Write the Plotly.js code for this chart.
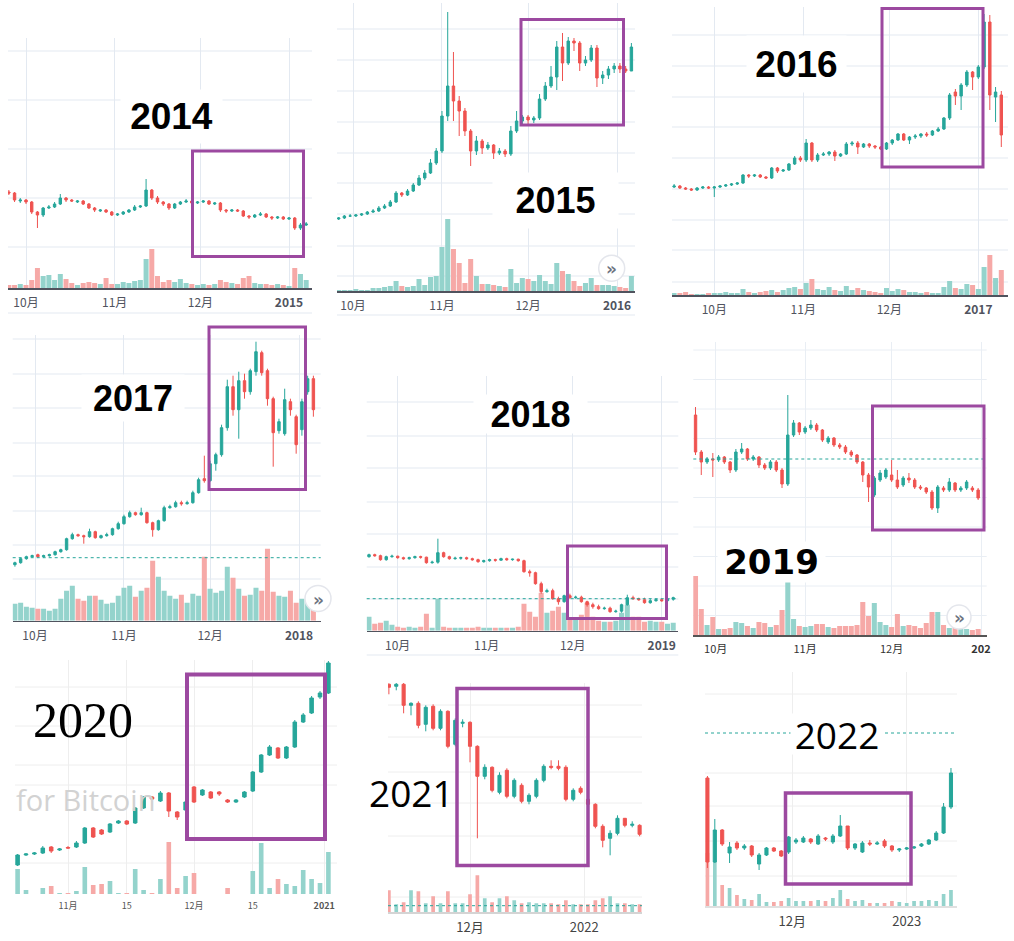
<!DOCTYPE html>
<html><head><meta charset="utf-8">
<script src="https://cdn.plot.ly/plotly-3.0.1.min.js"></script>
<style>html,body{margin:0;padding:0;background:#fff;}#chart{width:1014px;height:941px;}</style>
</head><body><div id="chart"></div>
<script>
// ---------- DATA (price & volume in chart units) ----------
const o2014=[96,95,87,88,86,76,73,80,81,84,90,88,86,87,84,80,77,78,76,73,74,76,78,81,82,98,90,86,84,80,84,86,87,85,86,87,84,85,78,77,78,77,72,71,73,74,71,70,71,69,70,60,63];
const h2014=[98,96,90,89,87,77,81,83,86,94,91,89,88,88,85,81,79,79,77,75,77,79,83,83,109,99,92,87,85,85,87,89,88,87,88,88,86,86,79,79,79,78,73,74,76,75,72,72,72,71,71,65,66];
const l2014=[93,86,85,84,74,60,71,79,80,83,86,86,85,83,79,76,76,75,72,72,73,75,77,80,81,88,84,82,78,79,83,85,84,84,85,83,83,76,75,76,76,71,69,70,72,70,68,69,68,68,58,58,62];
const c2014=[95,88,88,86,76,73,80,81,84,90,88,87,87,84,80,78,78,76,73,74,76,78,81,82,98,90,86,84,80,84,86,87,85,86,87,84,85,78,77,78,77,72,71,73,74,71,70,71,69,70,60,63,64];
const v2014=[3,3,4,3,8,20,12,13,8,14,9,5,3,5,6,5,4,10,4,4,6,5,7,8,29,39,12,6,8,6,9,5,4,3,4,3,4,8,6,5,4,10,12,5,4,4,3,4,3,2,20,14,8];

const o2015=[72,73,75,75,76,77,79,80,83,85,89,98,96,100,106,113,118,128,140,175,205,190,180,160,140,150,143,146,138,140,137,160,170,174,171,173,192,205,214,244,228,250,248,228,231,243,213,216,222,225,222,220];
const h2015=[74,76,77,77,78,80,82,85,87,91,100,99,102,108,116,121,132,143,180,279,239,195,183,162,155,152,149,147,143,142,165,180,176,176,175,197,209,225,250,258,254,253,250,235,246,246,220,225,228,228,225,248];
const l2015=[71,72,74,74,75,76,78,79,82,84,88,94,95,99,105,111,117,126,138,170,170,155,155,125,136,137,141,132,136,134,135,158,166,165,168,171,190,203,201,210,226,240,220,225,229,204,207,212,218,218,218,220];
const c2015=[73,75,75,76,77,79,80,83,85,89,98,96,100,106,113,118,128,140,175,205,190,180,160,140,150,143,146,138,140,137,160,170,174,171,173,192,205,214,244,228,250,248,228,231,243,213,216,222,225,222,220,244];
const v2015=[1,1,1,2,1,1,3,3,4,5,10,5,4,5,12,6,14,15,44,72,42,28,8,32,15,7,7,6,5,4,22,8,13,12,10,16,10,7,28,20,17,10,5,8,13,6,6,6,5,4,3,15];

const o2016=[108,109,107,106,105,107,108,107,108,109,110,111,112,120,119,120,118,117,127,124,125,131,137,135,152,135,140,141,143,139,141,151,152,148,151,149,148,146,152,155,161,155,158,159,161,160,164,166,177,203,199,210,223,218,228,273,198,200];
const h2016=[111,110,108,107,108,109,109,109,110,111,112,113,121,121,121,121,119,128,128,126,132,139,139,156,153,142,143,144,145,142,153,154,154,152,152,150,149,153,156,162,162,159,161,162,163,165,168,178,202,206,212,225,224,230,281,280,208,204];
const l2016=[107,106,105,104,104,106,106,98,107,108,109,110,111,117,118,117,116,116,122,123,124,130,133,133,133,133,139,139,134,138,140,149,141,147,147,146,145,145,150,154,154,151,156,157,158,159,163,165,175,190,185,208,205,216,226,185,173,148];
const c2016=[109,107,106,105,107,108,107,108,109,110,111,112,120,119,120,118,117,127,124,125,131,137,135,152,135,140,141,143,139,141,151,152,148,151,149,148,146,152,155,161,155,158,159,161,160,164,166,177,200,199,210,223,218,228,273,200,203,160];
const v2016=[2,2,3,1,1,1,2,2,2,3,2,2,6,3,2,3,4,5,3,5,7,8,6,12,16,6,5,8,5,4,9,5,7,5,4,3,2,7,4,6,5,3,3,2,3,2,2,8,14,7,6,11,10,6,28,40,17,25];

const o2017=[56,58,62,64,66,64,65,66,69,71,82,86,85,84,89,83,85,86,92,97,104,108,106,108,98,91,100,113,114,118,117,118,128,142,140,157,166,193,234,211,240,229,249,268,250,222,190,187,219,204,191,229,242];
const h2017=[59,63,65,66,67,66,67,70,72,83,88,87,86,92,90,86,88,93,99,106,110,109,113,109,99,101,115,116,120,120,120,130,143,165,160,168,196,241,245,249,247,252,279,270,252,224,202,232,222,206,222,245,245];
const l2017=[54,57,61,63,63,63,64,65,68,70,81,84,77,83,82,82,84,85,91,96,103,105,105,97,84,90,99,112,113,115,116,117,127,138,139,150,164,190,205,182,222,226,245,245,215,154,187,185,205,167,185,226,204];
const c2017=[58,62,64,65,64,65,66,69,71,82,86,85,84,89,83,85,86,92,97,104,108,106,108,98,91,100,113,114,118,117,118,128,141,140,157,166,193,234,211,240,229,250,269,248,222,188,199,221,211,176,219,242,211];
const v2017=[17,18,14,13,12,12,10,12,22,30,35,22,20,25,25,21,17,18,25,33,35,24,30,33,60,44,30,25,22,26,18,27,25,64,32,28,30,54,43,32,25,26,33,30,72,29,25,24,30,18,22,20,15];

const o2018=[74,76,75,71,74,74.5,73,72,73,74,73.5,68,68.5,78,74,72,72.5,73,72,71,69,70,71,70.5,72,71,71.5,70,59,58,47,39,40,32,29,35,33,33.5,29,26,24,22,22.5,19,19.5,26,33,32,31,28,30,31,30,31.5];
const h2018=[77,77,76,75,76,75,74,74,75,75,74,70,92,79,75,74,74,74,73,72,71,72,72,73,73,72,72,71,61,59,49,42,42,34,36,37,35,35,30,28,26,24,24,21,27,36,35,33,33,32,32,32,32,34];
const l2018=[73,74,70,70,73,72,71,71,72,72,67,67,67,73,71,71,71,71,70,68,68,69,69,70,70,70,69,58,54,46,37,38,31,26,28,32,32,28,24,22,21,21,18,18,18,25,31,30,27,27,29,29,29,30];
const c2018=[76,75,71,74,74.5,73,72,73,74,73.5,68,68.5,78,74,72,72.5,73,72,71,69,70,71,70.5,72,71,71.5,70,59,58,47,39,40,32,29,35,33,33.5,29,26,24,22,22.5,19,19.5,26,33,32,31,28,30,31,30,31.5,33];
const v2018=[14,7,8,10,6,4,3,4,3,4,17,3,32,4,3,3,3,3,3,4,3,3,3,3,3,3,4,27,19,14,38,18,20,24,18,12,12,16,28,14,10,9,9,10,18,26,14,14,9,10,9,9,7,8];

const o2019=[220,183,173,176,175,178,173,165,183,186,176,178,170,167,173,165,151,200,212,203,207,210,205,193,197,190,188,183,180,173,160,140,155,158,160,155,150,157,155,148,147,143,127,147,145,152,145,147,147,145];
const h2019=[228,185,178,182,180,179,174,186,192,187,180,179,172,175,175,167,240,215,213,209,215,212,206,199,198,192,190,185,181,174,162,159,165,167,175,165,159,162,157,150,148,145,150,149,157,153,149,155,149,147];
const l2019=[180,160,171,158,173,171,162,163,181,174,174,167,165,165,163,147,149,198,200,201,205,203,193,191,188,186,181,178,171,153,133,138,153,156,153,146,148,152,146,145,141,125,122,143,143,143,143,145,143,135];
const c2019=[183,173,176,175,178,173,165,183,186,176,178,170,167,173,165,151,200,212,203,207,210,205,195,197,190,188,183,180,173,160,148,157,162,165,155,148,157,155,148,147,143,127,148,145,153,145,147,153,145,137];
const v2019=[59,26,10,18,6,6,7,13,12,9,7,13,12,8,10,25,54,16,9,8,9,11,11,8,7,9,9,9,10,33,19,32,13,10,8,21,9,10,9,7,12,23,23,10,7,8,6,6,5,6];

const o2020=[29,39,40,41,47,44,46.5,47,51,66,64,62,71,73,71,86,97,93,101,82,84,107,99,102,102,94,92,97,103,122,139,146,136,147,172,181,197,201];
const h2020=[40,41,42,48,48,46,48,53,67,67,65,71,74,74,87,98,98,103,102,83,93,108,105,103,103,95,95,103,123,140,149,147,148,174,181,198,203,233];
const l2020=[28,38,39,40,41,43,45,46,50,56,59,61,70,69,70,85,94,92,77,74,83,91,98,95,98,91,91,96,102,121,138,135,135,146,171,180,195,200];
const c2020=[39,40,41,46,43,45,46,51,66,57,60,70,73,70,86,97,95,101,83,77,92,92,104,96,100,92,94,102,122,139,147,136,147,172,179,196,201,231];
const v2020=[25,4,0,6,8,1,1,3,27,9,10,13,1,1,25,4,1,15,52,6,18,21,0,0,0,6,0,0,23,51,6,15,10,8,24,15,11,42];

const o2021=[228,226,228,207,209,188,206,184,201,168,189,190,166,136,145,120,142,116,127,111,116,132,146,146,145,113,124,113,108,86,74,79,94,87,87];
const h2021=[229,232,230,210,211,207,208,203,202,194,193,191,167,148,146,140,144,134,129,119,134,148,152,152,147,124,126,115,109,88,82,97,89,91,88];
const l2021=[218,222,199,197,184,181,182,182,164,166,185,150,74,133,120,118,114,114,109,108,114,130,143,142,111,111,118,104,84,65,57,77,85,85,76];
const c2021=[225,228,207,209,187,205,184,201,166,192,190,166,136,145,122,137,116,132,111,117,132,146,145,144,113,122,120,108,86,72,79,94,87,88,78];
const v2021=[22,8,10,22,21,9,16,9,21,9,9,18,37,14,10,14,16,12,9,10,9,9,9,8,12,8,8,8,12,14,16,9,9,8,8];

const o2022=[128,44,76,53,63,58,60,42,51,58,55,54,64,64,67,62,68,64,70,80,58,54,63,62,65,60,56,57,58,60,62,66,73,99];
const h2022=[130,87,77,64,65,62,61,53,59,59,56,70,68,70,68,72,69,72,91,80,63,65,66,65,67,61,58,59,60,63,67,75,103,138];
const l2022=[38,43,60,43,56,56,49,36,50,54,49,52,62,63,62,61,65,62,69,56,56,53,60,61,58,54,54,56,57,59,61,65,72,97];
const c2022=[44,76,62,59,58,60,51,51,58,55,50,69,66,68,64,70,67,70,80,58,62,63,62,63,60,56,57,58,59,62,66,73,99,133];
const v2022=[53,46,21,18,11,7,6,12,4,4,5,8,5,5,5,6,5,8,16,7,5,6,3,3,3,5,4,3,5,5,6,5,12,16];

// tick dates & labels
const tickDates2014=['2014-10-01','2014-11-01','2014-12-01','2015-01-01'], tickText2014=['10月','11月','12月','<b>2015</b>'];
const tickDates2015=['2015-10-01','2015-11-01','2015-12-01','2016-01-01'], tickText2015=['10月','11月','12月','<b>2016</b>'];
const tickDates2016=['2016-10-01','2016-11-01','2016-12-01','2017-01-01'], tickText2016=['10月','11月','12月','<b>2017</b>'];
const tickDates2017=['2017-10-01','2017-11-01','2017-12-01','2018-01-01'], tickText2017=['10月','11月','12月','<b>2018</b>'];
const tickDates2018=['2018-10-01','2018-11-01','2018-12-01','2019-01-01'], tickText2018=['10月','11月','12月','<b>2019</b>'];
const tickDates2019=['2019-10-01','2019-11-01','2019-12-01','2020-01-01'], tickText2019=['10月','11月','12月','<b>202</b>'];
const tickDates2020=['2020-11-01','2020-11-15','2020-12-01','2020-12-15','2021-01-01'], tickText2020=['11月','15','12月','15','<b>2021</b>'];
const tickDates2021=['2021-12-01','2022-01-01'], tickText2021=['12月','2022'];
const tickDates2022=['2022-12-01','2023-01-01'], tickText2022=['12月','2023'];

const yearLabels=['2014','2015','2016','2017','2018','2019','2020','2021','2022'];
const priceLine2017=63, priceLine2018=32, priceLine2019=176, priceLine2021=6.6, priceLine2022=173;

// ---------- LAYOUT / STYLE ----------
const W=1014,H=941,DAY=86400000;
const UP='#26a69a',DN='#ef5350',VUP='#94d3cc',VDN='#f6a9a7',PURPLE='#9c49a0';
const GB='#e3e9f1',GG='#eeeeee';
const tickFontA={family:'Noto Sans CJK SC, sans-serif',size:12,color:'#50535e'};

const panels=[
 {o:o2014,h:h2014,l:l2014,c:c2014,v:v2014,start:'2014-09-25',step:2,bar:1.75,x0:8,x1:312,top:38,base:288,ref:'2014-10-01',refPx:26,ppd:2.859,tv:tickDates2014,tt:tickText2014,
  grid:[51,100,149,198,247,313],gc:GB,lc:'#50535e',tf:tickFontA,box:[192.5,151,303.5,256.5,3],
  label:{t:'<b>'+yearLabels[0]+'</b>',x:171.5,y:116.5,w:101,h:53,f:{family:'Liberation Sans, Arial, sans-serif',size:37,color:'#000'},bg:true}},
 {o:o2015,h:h2015,l:l2015,c:c2015,v:v2015,start:'2015-09-26',step:2,bar:1.75,x0:337,x1:635,top:3,base:291,ref:'2015-10-01',refPx:353,ppd:2.87,tv:tickDates2015,tt:tickText2015,
  grid:[29,60,91,122,153,183,214,246,276,315],gc:GB,lc:'#50535e',tf:tickFontA,box:[521,19.5,623.5,125,3],
  label:{t:'<b>'+yearLabels[1]+'</b>',x:555.5,y:201,w:125,h:55,f:{family:'Liberation Sans, Arial, sans-serif',size:36,color:'#000'},bg:true},btn:[611.7,268.3,13]},
 {o:o2016,h:h2016,l:l2016,c:c2016,v:v2016,start:'2016-09-17',step:2,bar:1.75,x0:672,x1:1008,top:7,base:295,ref:'2016-10-01',refPx:714.3,ppd:2.87,tv:tickDates2016,tt:tickText2016,
  grid:[35,66,97,127,158,189,220,250,282],gc:GB,lc:'#50535e',tf:tickFontA,box:[882,8.5,983,167,3],
  label:{t:'<b>'+yearLabels[2]+'</b>',x:796,y:64,w:99,h:56,f:{family:'Liberation Sans, Arial, sans-serif',size:37,color:'#000'},bg:true}},
 {o:o2017,h:h2017,l:l2017,c:c2017,v:v2017,start:'2017-09-24',step:2,bar:1.75,x0:12.7,x1:320.7,top:335,base:620.7,ref:'2017-10-01',refPx:35,ppd:2.87,tv:tickDates2017,tt:tickText2017,
  grid:[339,374,408,443,476,511,545,579],gc:GB,lc:'#50535e',tf:tickFontA,box:[209,327,305.5,489.5,3],level:priceLine2017,
  label:{t:'<b>'+yearLabels[3]+'</b>',x:132.5,y:398,w:102,h:46,f:{family:'Liberation Sans, Arial, sans-serif',size:36,color:'#000'},bg:true},btn:[318,598.5,13]},
 {o:o2018,h:h2018,l:l2018,c:c2018,v:v2018,start:'2018-09-21',step:2,bar:1.75,x0:366.7,x1:678.3,top:376,base:630.7,ref:'2018-10-01',refPx:397.7,ppd:2.87,tv:tickDates2018,tt:tickText2018,
  grid:[402,436,468,502,534,567,599,655],gc:GB,lc:'#50535e',tf:tickFontA,box:[567.5,546,666.5,618.5,3],level:priceLine2018,
  label:{t:'<b>'+yearLabels[4]+'</b>',x:530.5,y:414,w:113,h:38,f:{family:'Liberation Sans, Arial, sans-serif',size:36,color:'#000'},bg:true}},
 {o:o2019,h:h2019,l:l2019,c:c2019,v:v2019,start:'2019-09-24',step:2,bar:1.75,x0:693.3,x1:986.7,top:342,base:635,ref:'2019-10-01',refPx:715.7,ppd:2.884,tv:tickDates2019,tt:tickText2019,
  grid:[350,379.5,409,438.5,468,497.5,527,556.5,586,615.5],gc:'#e9eef4',lc:'#555',tf:{family:'Noto Sans CJK SC, sans-serif',size:11,color:'#333'},box:[872.5,406,984,530,3],level:priceLine2019,
  label:{t:'<b>'+yearLabels[5]+'</b>',x:771.5,y:562,w:107,h:40,f:{family:'DejaVu Sans, sans-serif',size:34,color:'#000'},bg:true},btn:[959,617,12]},
 {o:o2020,h:h2020,l:l2020,c:c2020,v:v2020,start:'2020-10-20',step:2,bar:1.1,x0:15,x1:337,top:660,base:894,ref:'2020-11-01',refPx:68,ppd:4.2,tv:tickDates2020,tt:tickText2020,
  grid:[687,726,765,785,863],gc:GG,lc:null,tf:{family:'Noto Sans CJK SC, sans-serif',size:9,color:'#555'},box:[187,674.5,325,839,4],
  label:{t:yearLabels[6],x:83,y:720,f:{family:'Liberation Serif, Times New Roman, serif',size:50,color:'#000'},bg:false},watermark:true},
 {o:o2021,h:h2021,l:l2021,c:c2021,v:v2021,start:'2021-11-09',step:2,bar:1.0,x0:388,x1:642,top:683,base:912.3,ref:'2021-12-01',refPx:470,ppd:3.687,tv:tickDates2021,tt:tickText2021,
  grid:[705,737,772,803,836,897],gc:GG,lc:'#d4d4d4',tf:{family:'Noto Sans CJK SC, sans-serif',size:13,color:'#444'},box:[457,688.5,588,865.5,3.5],level:priceLine2021,
  label:{t:yearLabels[7],x:411,y:792,f:{family:'Open Sans, Noto Sans, sans-serif',size:37,color:'#000'},bg:false}},
 {o:o2022,h:h2022,l:l2022,c:c2022,v:v2022,start:'2022-11-08',step:2,bar:1.0,x0:705,x1:957,top:672,base:906,ref:'2022-12-01',refPx:792.3,ppd:3.69,tv:tickDates2022,tt:tickText2022,
  grid:[694,773,806,841,876],gc:GG,lc:'#e0e0e0',tf:{family:'Noto Sans CJK SC, sans-serif',size:13,color:'#444'},box:[785.5,793,911,884,3.5],level:priceLine2022,
  label:{t:yearLabels[8],x:836.5,y:734,w:92,h:40,f:{family:'Open Sans, Noto Sans, sans-serif',size:37,color:'#000'},bg:true}}
];

function dstr(ms){return new Date(ms).toISOString().slice(0,19).replace('T',' ');}
function px2date(p,P){return dstr(Date.parse(P.ref+'T00:00:00Z')+(p-P.refPx)/P.ppd*DAY);}
const X=p=>p/W, Y=p=>1-p/H;

const traces=[],shapes=[],annotations=[];
const layout={width:W,height:H,margin:{l:0,r:0,t:0,b:0},paper_bgcolor:'#fff',plot_bgcolor:'rgba(0,0,0,0)',showlegend:false,boxgap:0.4};

panels.forEach((P,k)=>{
  const id=k===0?'':String(k+1);
  const t0=Date.parse(P.start+'T00:00:00Z');
  const dates=P.o.map((_,i)=>dstr(t0+i*P.step*DAY));
  const vcol=P.o.map((o,i)=>P.c[i]>=o?VUP:VDN);
  traces.push({type:'bar',x:dates,y:P.v,xaxis:'x'+id,yaxis:'y'+id,width:P.bar*DAY,marker:{color:vcol,line:{width:0}},hoverinfo:'skip'});
  traces.push({type:'candlestick',x:dates,open:P.o,high:P.h,low:P.l,close:P.c,xaxis:'x'+id,yaxis:'y'+id,whiskerwidth:0,
    increasing:{line:{color:UP,width:1},fillcolor:UP},decreasing:{line:{color:DN,width:1},fillcolor:DN},hoverinfo:'skip'});
  layout['xaxis'+id]={domain:[X(P.x0),X(P.x1)],anchor:'y'+id,type:'date',range:[px2date(P.x0,P),px2date(P.x1,P)],
    tickmode:'array',tickvals:P.tv,ticktext:P.tt,showgrid:true,gridcolor:P.gc,gridwidth:1,zeroline:false,
    showline:!!P.lc,linecolor:P.lc||'#fff',linewidth:1.5,ticks:'outside',ticklen:P.k===6?0:3,tickcolor:'rgba(0,0,0,0)',
    tickfont:P.tf,rangeslider:{visible:false},fixedrange:true};
  layout['yaxis'+id]={domain:[Y(P.base),Y(P.top)],anchor:'x'+id,range:[0,P.base-P.top],showgrid:false,showticklabels:false,zeroline:false,showline:false,fixedrange:true};
  P.grid.forEach(g=>shapes.push({type:'line',xref:'paper',yref:'paper',x0:X(P.x0),x1:X(P.x1),y0:Y(g),y1:Y(g),line:{color:P.gc,width:1},layer:'below'}));
  if(P.level!==undefined) shapes.push({type:'line',xref:'paper',yref:'y'+id,x0:X(P.x0),x1:X(P.x1),y0:P.level,y1:P.level,line:{color:UP,width:1,dash:'dot'},layer:'above'});
  const b=P.box;
  shapes.push({type:'rect',xref:'paper',yref:'paper',x0:X(b[0]),x1:X(b[2]),y0:Y(b[3]),y1:Y(b[1]),line:{color:PURPLE,width:b[4]},fillcolor:'rgba(0,0,0,0)',layer:'above'});
  if(P.btn){const [cx,cy,r]=P.btn;
    shapes.push({type:'circle',xref:'paper',yref:'paper',x0:X(cx-r),x1:X(cx+r),y0:Y(cy+r),y1:Y(cy-r),fillcolor:'#fff',line:{color:'#e4e6ec',width:1.5},layer:'above'});
    annotations.push({xref:'paper',yref:'paper',x:X(cx),y:Y(cy+1),text:'<b>»</b>',showarrow:false,font:{family:'DejaVu Sans, sans-serif',size:17,color:'#6d7380'},xanchor:'center',yanchor:'middle'});
  }
  const L=P.label;
  const a={xref:'paper',yref:'paper',x:X(L.x),y:Y(L.y),text:L.t,showarrow:false,font:L.f,xanchor:'center',yanchor:'middle'};
  if(L.bg){a.bgcolor='#fff';a.width=L.w;a.height=L.h;a.borderpad=0;}
  annotations.push(a);
  if(P.watermark) annotations.push({xref:'paper',yref:'paper',x:X(14),y:Y(799),text:'for Bitcoin',showarrow:false,xanchor:'left',yanchor:'middle',font:{family:'Open Sans, sans-serif',size:29,color:'#d2d2d2'}});
});
layout.shapes=shapes; layout.annotations=annotations;
Plotly.newPlot('chart',traces,layout,{displayModeBar:false,staticPlot:true});
</script></body></html>
